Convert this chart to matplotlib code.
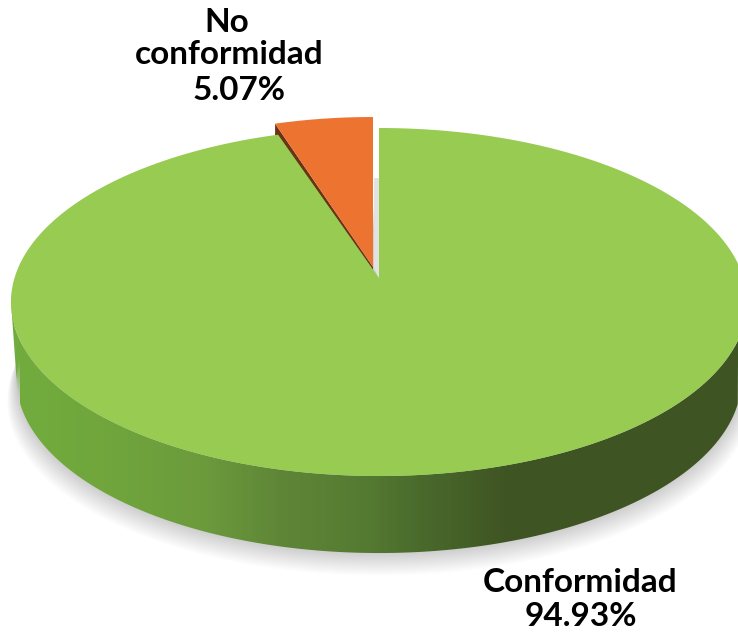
import numpy as np
import matplotlib
matplotlib.use('Agg')
import matplotlib.pyplot as plt
from matplotlib.colors import LinearSegmentedColormap
from matplotlib.patches import Polygon

# Pie data (percent), slices run counter clockwise from 12 o'clock
slice_names = ['No conformidad', 'Conformidad']
slice_values = [5.07, 94.93]
slice_colors = ['#ed7430', '#97cb52']

# Geometry of the tilted disc in image pixels
CX, CY = 379.0, 278.0      # projected pie centre
K = 0.138                  # perspective strength
A, B = 170.7, 364.5        # vertical / horizontal scale
DEPTH = 77


def project(theta, r=1.0):
    """Tilted circle point -> pixel position."""
    x = r * np.cos(theta)
    y = r * np.sin(theta)
    d = 1 + K * y
    return CX + B * x / d, CY - A * y / d


def wedge(start, end):
    t = np.radians(np.linspace(start, end, 300))
    px, py = project(t)
    return np.r_[CX, px, CX], np.r_[CY, py, CY]


fig = plt.figure(figsize=(7.38, 6.32), dpi=100)
ax = fig.add_axes([0, 0, 1, 1])
ax.set_xlim(0, 738)
ax.set_ylim(632, 0)
ax.axis('off')

# slice angles from the values
a0 = 90.0
a1 = a0 + 360 * slice_values[0] / 100
a2 = a0 + 360

# outline of the full disc, used for the wall and the shadow
t_all = np.radians(np.linspace(0, 360, 720))
ex, ey = project(t_all)

# soft shadow under the disc
low_x = CX + (ex - CX) * 0.985
low_y = ey + DEPTH
for i in range(16, 0, -1):
    ax.fill(CX + (low_x - CX) * (1 + i * 0.0016), low_y + i * 1.4,
            color='black', alpha=0.010, lw=0, zorder=1)

# side wall: ellipse swept downwards, shaded left to right
stops = [(0.00, '#72ad3e'), (0.14, '#70a63c'), (0.27, '#6c9b3c'),
         (0.38, '#5f8637'), (0.50, '#547a32'), (0.57, '#4a6a2c'),
         (0.69, '#3f5423'), (1.00, '#3f5423')]
cmap = LinearSegmentedColormap.from_list('wall', stops)
grad = np.linspace(0, 1, 738).reshape(1, -1)
im = ax.imshow(grad, cmap=cmap, extent=[0, 738, 632, 0], aspect='auto', zorder=2)
lower = np.where(np.sin(t_all) <= 0)[0]
lower = lower[np.argsort(ex[lower])]
clip = Polygon(np.c_[np.r_[ex[lower], low_x[lower][::-1]],
                     np.r_[ey[lower], low_y[lower][::-1]]],
               closed=True, transform=ax.transData)
im.set_clip_path(clip)
ax.set_xlim(0, 738)
ax.set_ylim(632, 0)

# exploded orange slice, pulled up and slightly narrowed
ox, oy = wedge(a0, a1)
ox = CX - 6 + (ox - CX) * 0.97
oy = oy - 11

# brown cut face of the orange slice, partly behind the green top
tip = np.argmin(ox)
ax.fill([ox[0], ox[tip], ox[tip], ox[0]],
        [oy[0], oy[tip], oy[tip] + 13, oy[0] + 13],
        color='#6b3213', lw=0, zorder=3)

# light grey inner wall seen in the gap
ax.fill([CX - 5, CX, CX, CX - 5], [178, 178, CY + 1, CY - 10],
        color='#e2e2e2', lw=0, zorder=3)

gx, gy = wedge(a1, a2)
ax.fill(gx, gy, color=slice_colors[1], lw=0, zorder=4)
ax.fill(ox, oy, color=slice_colors[0], lw=0, zorder=5)

# labels
font = dict(family='Lato', fontweight='bold', fontsize=24, color='black',
            ha='center', va='center', zorder=6)
ax.text(227, 22, 'No', **font)
ax.text(229, 55, 'conformidad', **font)
ax.text(239, 90, f'{slice_values[0]:.2f}%', **font)
ax.text(580, 583, slice_names[1], **font)
ax.text(581, 617, f'{slice_values[1]:.2f}%', **font)

fig.savefig('out.png', dpi=100)
